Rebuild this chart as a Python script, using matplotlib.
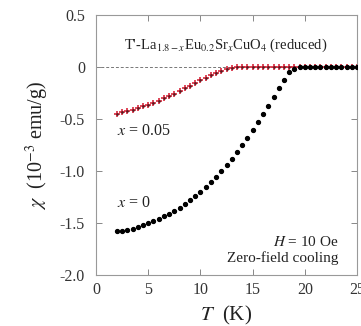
import numpy as np
import matplotlib
matplotlib.use('Agg')
import matplotlib.pyplot as plt

plt.rcParams['font.family'] = ['Liberation Serif', 'DejaVu Serif']
plt.rcParams['mathtext.fontset'] = 'stix'

## Data (chi in 10^-3 emu/g)
T = np.arange(2.0, 25.01, 0.5)

chi_x0 = [-1.580, -1.572, -1.565, -1.553, -1.540, -1.522, -1.502, -1.482,
          -1.460, -1.436, -1.410, -1.381, -1.350, -1.316, -1.280, -1.241,
          -1.200, -1.156, -1.108, -1.056, -1.000, -0.941, -0.880, -0.816,
          -0.750, -0.680, -0.605, -0.530, -0.452, -0.372, -0.290, -0.205,
          -0.122, -0.050, -0.015, -0.004, 0.000, 0.000, 0.000, 0.000,
          0.000, 0.000, 0.000, 0.000, 0.000, 0.000, 0.000]

chi_x005 = [-0.450, -0.437, -0.424, -0.410, -0.395, -0.379, -0.362, -0.343,
            -0.323, -0.302, -0.280, -0.256, -0.231, -0.205, -0.179, -0.153,
            -0.128, -0.104, -0.081, -0.059, -0.039, -0.022, -0.010, -0.004,
            -0.001, 0.000, 0.000, 0.000, 0.000, 0.000, 0.000, 0.000,
            0.000, 0.000, 0.000, 0.000, 0.000, 0.000, 0.000, 0.000,
            0.000, 0.000, 0.000, 0.000, 0.000, 0.000, 0.000]

xticks = [0, 5, 10, 15, 20, 25]
yticks = [0.5, 0, -0.5, -1.0, -1.5, -2.0]
ylabels = ['0.5', '0', '-0.5', '-1.0', '-1.5', '-2.0']

fig = plt.figure(figsize=(3.61, 3.26), dpi=100)
ax = fig.add_axes([0.266, 0.156, 0.723, 0.798])

ax.axhline(0, color='#777777', lw=0.7, ls=(0, (3, 2)), zorder=1)
ax.plot(T, chi_x005, ls='none', marker='+', ms=5, mew=1.2, color='#d8283c', zorder=2)
ax.plot(T, chi_x005, ls='none', marker='.', ms=1.8, color='#5a1a20', zorder=3)
ax.plot(T, chi_x0, ls='none', marker='o', ms=2.8, color='black', zorder=4)

ax.set_xlim(0, 25)
ax.set_ylim(-2.0, 0.5)
ax.set_xticks(xticks)
ax.set_yticks(yticks)
ax.set_yticklabels(ylabels)
ax.tick_params(direction='in', top=True, right=True, length=4, width=0.7,
               color='#888888', labelsize=11.5, labelcolor='#333333')
ax.tick_params(axis='y', pad=8)
ax.tick_params(axis='x', pad=5)
for s in ax.spines.values():
    s.set_color('#999999')
    s.set_linewidth(0.8)

ax.set_xlabel('$T$  (K)', fontsize=15, color='#222222', labelpad=4)
ax.set_ylabel('$\\chi$  (10$^{-3}$ emu/g)', fontsize=14.5, color='#222222', labelpad=6)

ax.text(12.4, 0.21, "T'-La$_{1.8-x}$Eu$_{0.2}$Sr$_x$CuO$_4$ (reduced)", fontsize=10.5,
        ha='center', va='center', color='#222222')
ax.text(2.0, -0.61, '$x$ = 0.05', fontsize=11.5, ha='left', va='center', color='#222222')
ax.text(2.0, -1.31, '$x$ = 0', fontsize=11.5, ha='left', va='center', color='#222222')
ax.text(23.2, -1.68, '$H$ = 10 Oe', fontsize=11, ha='right', va='center', color='#222222')
ax.text(23.2, -1.84, 'Zero-field cooling', fontsize=11, ha='right', va='center', color='#222222')

fig.savefig('out.png', dpi=100)
